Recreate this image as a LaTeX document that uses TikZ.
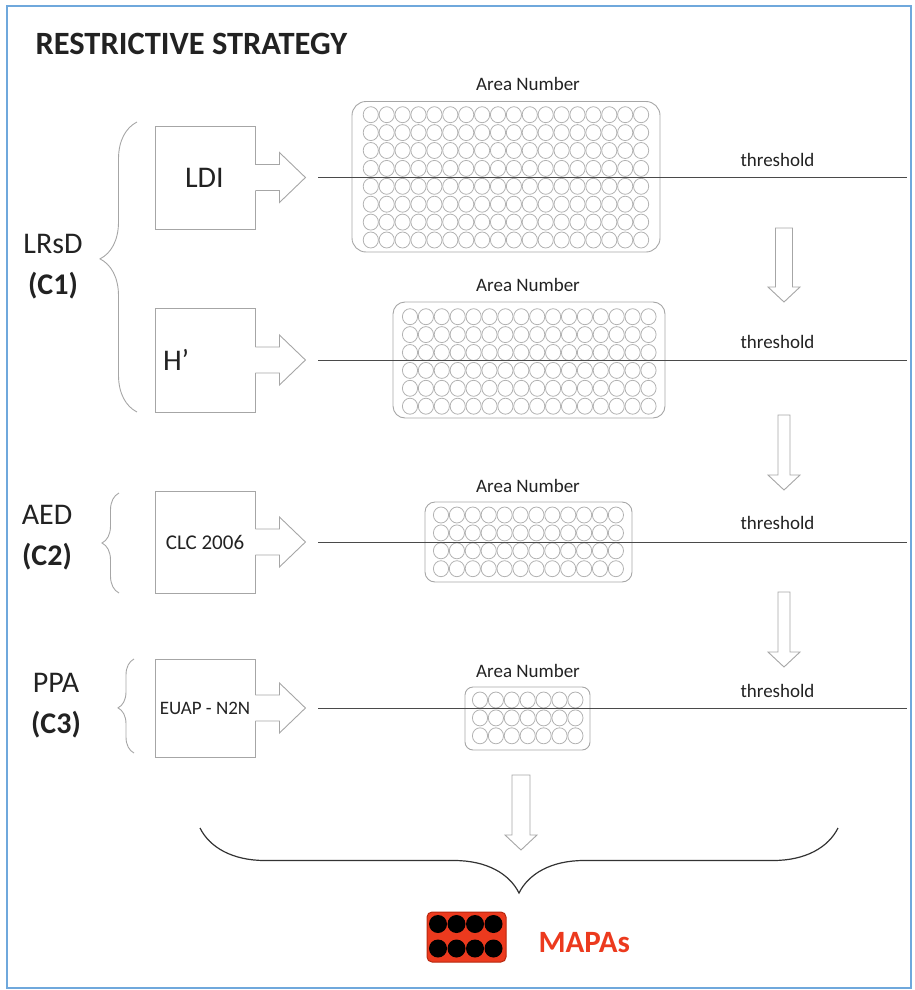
\documentclass[tikz,border=0pt]{standalone}
\usepackage{fontspec}
\setmainfont{Carlito}
\usepackage{tikz}
\usetikzlibrary{calc,decorations.pathreplacing}
\definecolor{frameblue}{HTML}{6FA8DC}
\definecolor{lightline}{HTML}{A6A6A6}
\definecolor{dotline}{HTML}{B2B2B2}
\definecolor{threshline}{HTML}{4A4A4A}
\definecolor{inkgray}{HTML}{222222}
\definecolor{mapared}{HTML}{EC3A1E}
\definecolor{mapadark}{HTML}{B8280F}

% 右向きの白抜き矢印 (箱の右辺から)
\newcommand{\sidearrow}[2]{%
  \fill[white] ($(#1.east)+(-1,-13)$) rectangle ($(#1.east)+(24,13)$);
  \draw[blockline,fill=none] ($(#1.east)+(0,-13)$) -- ++(24,0) -- ++(0,-12) -- ++(26,25) coordinate (#2) -- ++(-26,25) -- ++(0,-12) -- ++(-24,0);}
% 下向きの白抜き矢印
\newcommand{\droparrow}[4]{%
  \draw[blockline] (#1-#4,#2) -- (#1+#4,#2) -- (#1+#4,#3-15) -- (#1+16,#3-15) -- (#1,#3) -- (#1-16,#3-15) -- (#1-#4,#3-15) -- cycle;}
% 円の格子
\newcommand{\areagrid}[4]{%
  \foreach \i in {0,...,#3}{\foreach \j in {0,...,#4}{\draw[dot] (#1+15.9*\i,#2+17.9*\j) circle[x radius=7.6,y radius=8];}}}

\tikzset{
  srcbox/.style={draw=lightline,line width=0.9pt,minimum width=100,minimum height=103,inner sep=0pt,text=inkgray,font=\fontsize{30}{36}\selectfont},
  areabox/.style={draw=lightline,line width=0.9pt,inner sep=0pt},
  dot/.style={draw=dotline,line width=0.8pt},
  blockline/.style={draw=lightline,line width=0.9pt,fill=white},
  grouplabel/.style={align=center,text=inkgray,font=\fontsize{30}{41}\selectfont},
  smalllabel/.style={text=inkgray,font=\fontsize{19}{22}\selectfont},
  leftbrace/.style={draw=lightline,line width=0.9pt,decorate,decoration={brace,amplitude=#1}},
}

\begin{document}
\begin{tikzpicture}[x=1pt,y=-1pt]
  \useasboundingbox (0,0) rectangle (914,990);
  \draw[frameblue,line width=1.5] (7,6) rectangle (911,988);%枠
  \node[anchor=base west,text=inkgray,font=\bfseries\fontsize{32.5}{36}\selectfont] (title) at (32,55) {RESTRICTIVE STRATEGY};
  \coordinate (rightedge) at (907,0);

  % 入力の箱
  \node[srcbox,text width=88,align=left] (ldi) at (205,177.5) {\hspace{24pt}LDI};
  \node[srcbox,minimum height=104,text width=84,align=left] (hp) at (205,360) {H’};
  \node[srcbox,minimum height=102,font=\fontsize{21}{25}\selectfont] (clc) at (205,542) {CLC 2006};
  \node[srcbox,minimum height=98,font=\fontsize{19}{23}\selectfont] (euap) at (205,708) {EUAP - N2N};
  \sidearrow{ldi}{tipA}
  \sidearrow{hp}{tipB}
  \sidearrow{clc}{tipC}
  \sidearrow{euap}{tipD}

  % 左の括弧
  \draw[leftbrace=37,decoration={aspect=0.528}] (137,412) -- (137,122);
  \draw[leftbrace=17] (119,593) -- (119,493);
  \draw[leftbrace=16,decoration={aspect=0.48}] (134,753) -- (134,659);
  \node[grouplabel] (c1) at (53,267) {LRsD\\\textbf{(C1)}};
  \node[grouplabel] (c2) at (47,538) {AED\\\textbf{(C2)}};
  \node[grouplabel] (c3) at (56,706) {PPA\\\textbf{(C3)}};

  % Area Number
  \node[areabox,rounded corners=14,minimum width=308,minimum height=150.5] (areaA) at (506,176.75) {};
  \areagrid{370.8}{114.7}{17}{7}
  \node[areabox,rounded corners=12,minimum width=272,minimum height=116] (areaB) at (529,360) {};
  \areagrid{410}{316.7}{15}{5}
  \node[areabox,rounded corners=10,minimum width=207,minimum height=80] (areaC) at (528.5,542) {};
  \areagrid{441}{515}{11}{3}
  \node[areabox,rounded corners=8,minimum width=125,minimum height=63] (areaD) at (527.5,718.5) {};
  \areagrid{480}{700}{6}{2}
  \node[smalllabel] (numA) at (528,84) {Area Number};
  \node[smalllabel] (numB) at (528,285) {Area Number};
  \node[smalllabel] (numC) at (528,486) {Area Number};
  \node[smalllabel] (numD) at (528,671) {Area Number};

  % 閾値
  \foreach \t in {A,B,C,D}
    \draw[threshline,line width=1pt] ($(tip\t)+(13,0)$) -- (tip\t -| rightedge);
  \node[smalllabel,anchor=base west] (thA) at (737,166.5) {threshold};
  \node[smalllabel,anchor=base west] (thB) at (737,348.5) {threshold};
  \node[smalllabel,anchor=base west] (thC) at (737,529.5) {threshold};
  \node[smalllabel,anchor=base west] (thD) at (737,697) {threshold};
  \droparrow{784}{228}{302}{8.5}
  \droparrow{784}{415}{490}{6}
  \droparrow{784}{592}{667}{6}
  \droparrow{521}{775}{850}{9}

  % MAPAs
  \draw[draw=black!80,line width=1.2pt,decorate,decoration={brace,amplitude=65}] (838,828) -- (200,828);
  \node[draw=mapadark,fill=mapared,rounded corners=5,line width=1pt,minimum width=79,minimum height=50] (mapicon) at (466.5,937) {};
  \foreach \i in {0,...,3} \foreach \j in {0,1} \fill (438+18.5*\i,924+24.5*\j) circle (9);
  \node[anchor=base west,text=mapared,font=\bfseries\fontsize{31}{36}\selectfont] (mapas) at (535,952) {MAPAs};
\end{tikzpicture}
\end{document}
